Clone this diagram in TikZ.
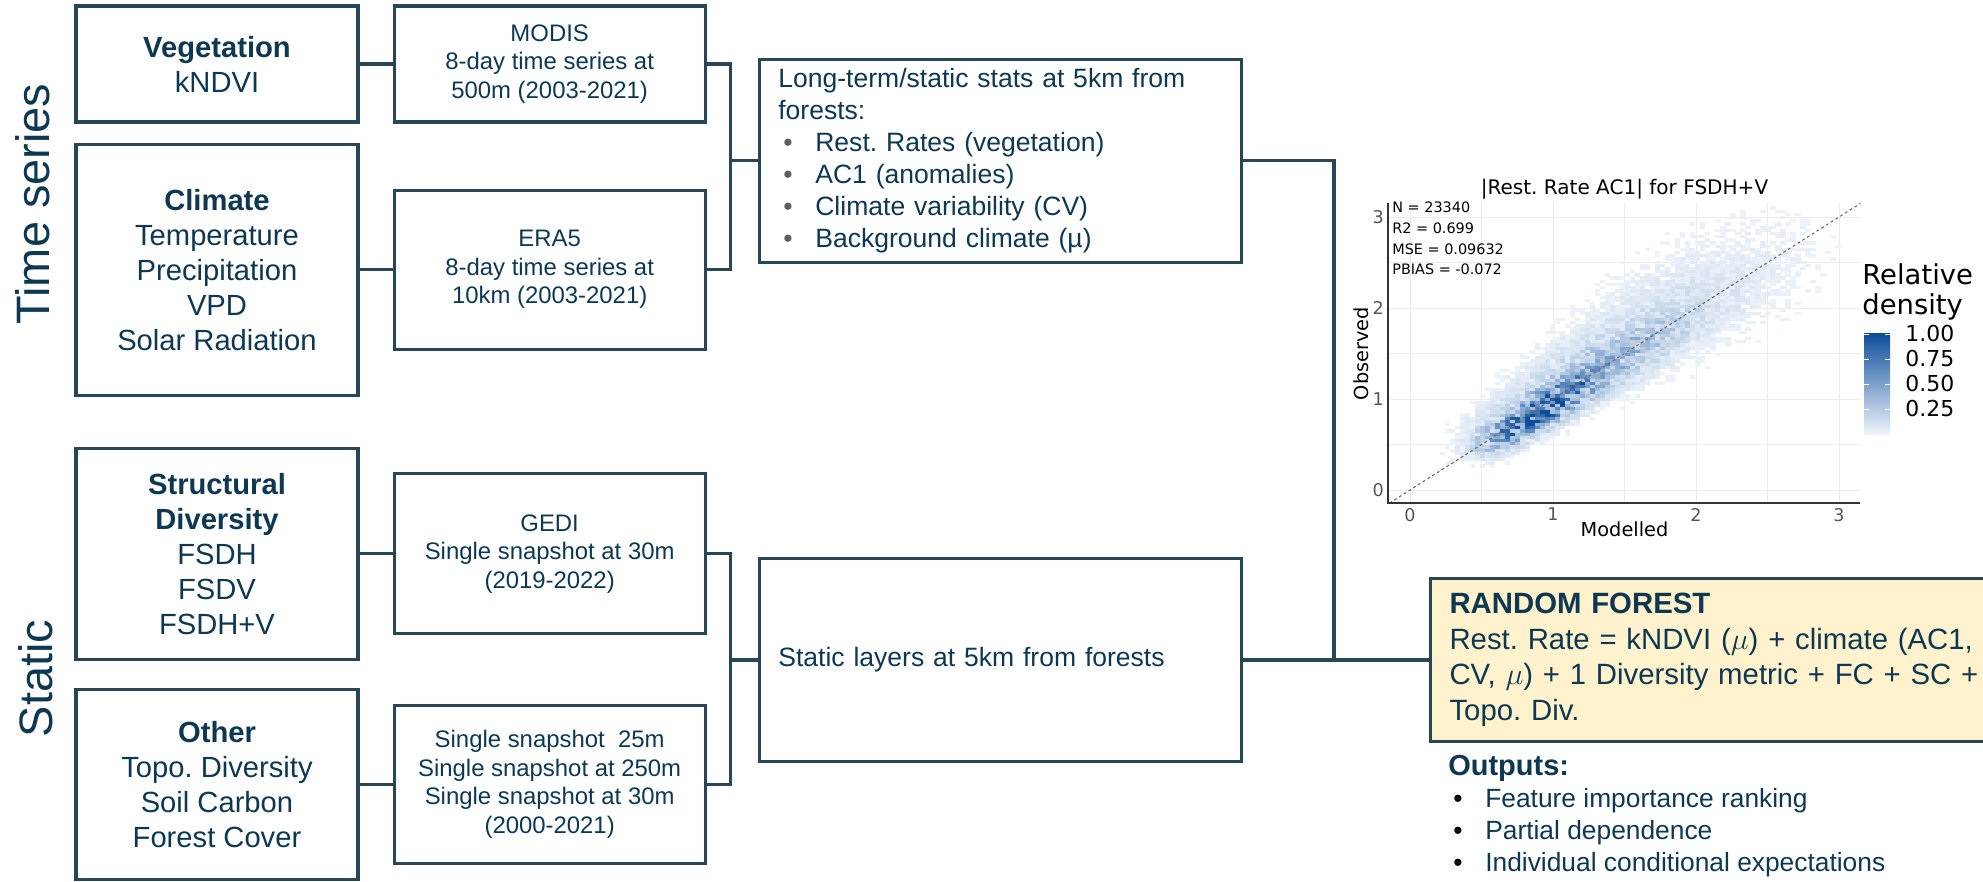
\documentclass[tikz,border=0pt]{standalone}
\usepackage{fontspec}
\setmainfont{Liberation Sans}
\newfontfamily\plotfont{DejaVu Sans}
\usepackage{xcolor}
\usepackage{tikz}
\usetikzlibrary{positioning,calc}
\frenchspacing
\definecolor{slateln}  {RGB}{40, 70, 86}
\definecolor{navytxt}  {RGB}{14, 56, 82}
\definecolor{rfyellow} {RGB}{255,242,204}
\definecolor{bulgray}  {RGB}{95, 95, 95}
\definecolor{gridgray} {RGB}{236,236,236}
\definecolor{tickgray} {RGB}{85, 85, 85}
\definecolor{densblue} {RGB}{12, 78,155}
\definecolor{denslow}  {RGB}{238,244,251}
\newcommand{\blt}[1][bulgray]{\makebox[0.74cm][l]{\hspace{0.1cm}\textcolor{#1}{•}}}
\tikzset{
  srcbox/.style={draw=slateln,line width=1.8pt,minimum width=5.64cm,
                 align=center,text=navytxt,
                 font=\fontsize{16.6}{19.9}\selectfont},
  prodbox/.style={srcbox,minimum width=6.22cm,
                  font=\fontsize{13.6}{16.2}\selectfont},
  statbox/.style={draw=slateln,line width=1.8pt,minimum width=9.64cm,
                  minimum height=4.06cm,text width=8.88cm,inner xsep=0.38cm,
                  align=left,text=navytxt,
                  font=\fontsize{15.1}{18.2}\selectfont},
  rfbox/.style={statbox,fill=rfyellow,minimum height=3.26cm,
                minimum width=11.42cm,text width=10.66cm,
                font=\fontsize{16.7}{20.2}\selectfont},
  outlist/.style={align=left,text=navytxt,inner xsep=0.38cm,inner ysep=0pt,
                  font=\fontsize{15}{18.2}\selectfont},
  conn/.style={draw=slateln,line width=1.8pt},
  sidelbl/.style={rotate=90,text=navytxt,font=\fontsize{26.7}{30}\selectfont},
  ptitle/.style={font=\plotfont\fontsize{11.4}{14}\selectfont},
  pstat/.style={font=\plotfont\fontsize{8.2}{11.8}\selectfont,align=left,
                inner sep=0pt},
  ptick/.style={font=\plotfont\fontsize{10}{12}\selectfont,text=tickgray,
                inner sep=1pt},
  paxis/.style={font=\plotfont\fontsize{11}{14}\selectfont},
  gridln/.style={draw=gridgray,line width=0.5pt},
  axisln/.style={draw=black!80,line width=0.8pt},
  diagln/.style={draw=black!60,dash pattern=on 1.6pt off 1.6pt,line width=0.6pt},
  legtitle/.style={font=\plotfont\fontsize{15.6}{17}\selectfont,align=left,
                   inner sep=0pt},
  legval/.style={font=\plotfont\fontsize{12.5}{14}\selectfont,inner sep=0pt},
}

\begin{document}
\begin{tikzpicture}[node distance=0.38cm and 0.66cm]
  \useasboundingbox (0,0) rectangle (39.66,-17.64);
  \clip (0,0) rectangle (39.66,-17.64);

  % Side labels
  \node[sidelbl] (TS_LBL) at (0.66,-4.08)  {Time series};
  \node[sidelbl] (ST_LBL) at (0.71,-13.57) {Static};

  % Column 1
  \node[srcbox,minimum height=2.32cm] (VEG) at (4.34,-1.28)
       {\textbf{Vegetation}\\kNDVI};
  \node[srcbox,minimum height=5.02cm,below=of VEG] (CLIM)
       {\textbf{Climate}\\Temperature\\Precipitation\\VPD\\Solar Radiation};
  \node[srcbox,minimum height=4.22cm,below=1.0cm of CLIM] (STRUCT)
       {\textbf{Structural}\\\textbf{Diversity}\\FSDH\\FSDV\\FSDH+V};
  \node[srcbox,minimum height=3.8cm,below=0.54cm of STRUCT] (OTHER)
       {\textbf{Other}\\Topo. Diversity\\Soil Carbon\\Forest Cover};
  % Column 2
  \node[prodbox,minimum height=2.32cm,right=of VEG] (MODIS)
       {MODIS\\8-day time series at\\500m (2003-2021)};
  \node[prodbox,minimum height=3.18cm,right=of CLIM] (ERA5)
       {ERA5\\8-day time series at\\10km (2003-2021)};
  \node[prodbox,minimum height=3.2cm,right=of STRUCT] (GEDI)
       {GEDI\\Single snapshot at 30m\\(2019-2022)};
  \node[prodbox,minimum height=3.16cm,right=of OTHER] (OTHER_SRC)
       {Single snapshot\ \ 25m\\Single snapshot at 250m\\Single snapshot at 30m\\(2000-2021)};
  % Column 3
  \coordinate (TS_JOIN) at ($(MODIS.east)!0.47!(ERA5.east)+(0.48,0)$);
  \coordinate (ST_JOIN) at ($(GEDI.east)!0.46!(OTHER_SRC.east)+(0.48,0)$);
  \node[statbox,right=0.54cm of TS_JOIN] (LONGTERM)
       {Long-term/static stats at 5km from\\forests:\\
        \blt Rest. Rates (vegetation)\\\blt AC1 (anomalies)\\
        \blt Climate variability (CV)\\\blt Background climate (µ)};
  \node[statbox,right=0.54cm of ST_JOIN] (STATIC)
       {Static layers at 5km from forests};
  \coordinate (MERGE) at ([xshift=1.82cm]STATIC.east);
  % Model
  \node[rfbox,right=3.72cm of STATIC] (RF)
       {\textbf{RANDOM FOREST}\\Rest. Rate = kNDVI ($\mu$) + climate (AC1,\\
        CV, $\mu$) + 1 Diversity metric + FC + SC +\\Topo. Div.};
  \node[outlist,below=0.23cm of RF.south west,anchor=north west] (OUTPUTS)
       {{\fontsize{16.5}{19}\selectfont\bfseries Outputs:}\\
        \blt[black]Feature importance ranking\\
        \blt[black]Partial dependence\\
        \blt[black]Individual conditional expectations};

  % Connectors
  \draw[conn] (VEG) -- (MODIS);
  \draw[conn] (CLIM) -- (ERA5);
  \draw[conn] (STRUCT) -- (GEDI);
  \draw[conn] (OTHER) -- (OTHER_SRC);
  \draw[conn] (MODIS.east) -| (TS_JOIN) |- (ERA5.east);
  \draw[conn] (GEDI.east) -| (ST_JOIN) |- (OTHER_SRC.east);
  \draw[conn] (TS_JOIN) -- (LONGTERM.west);
  \draw[conn] (ST_JOIN) -- (STATIC.west);
  \draw[conn] (LONGTERM.east) -| (MERGE);
  \draw[conn] (STATIC.east) -- (RF.west);

  % Scatter panel
  \begin{scope}[shift={(28.2,-9.8)},x=2.86cm,y=1.82cm,
                declare function={gau(\gx)=exp(max(-14,-0.5*\gx*\gx));
                                  ramp(\gx)=1/(1+exp(min(14,-(\gx-0.42)/0.07)));}]
    \foreach \g in {0,0.5,...,3}{
      \draw[gridln] (\g,-0.143) -- (\g,3.15);
      \draw[gridln] (-0.154,\g) -- (3.15,\g);
    }
    % binned density
    \pgfmathsetseed{2718}
    \foreach \i in {4,...,86}{
      \pgfmathtruncatemacro\jlo{max(1,\i-24)}
      \pgfmathtruncatemacro\jhi{min(88,\i+32)}
      \foreach \j in {\jlo,...,\jhi}{
        \pgfmathsetmacro\uu{0.0175*(\i+\j)+0.0175}
        \pgfmathsetmacro\vv{0.035*(\j-\i)}
        \pgfmathsetmacro\dd{ramp(\uu)*(0.9*gau((\uu-0.85)/0.25)*gau((\vv+0.06)/0.13)
          +0.28*gau((\uu-1.35)/0.4)*gau(\vv/0.2)
          +0.15*gau((\uu-1.3)/0.8)*gau((\vv-0.12)/(0.1+0.17*\uu)))}
        \pgfmathsetmacro\cc{min(1,0.8*\dd*(0.3+1.4*rnd))}
        \pgfmathtruncatemacro\keep{(rnd<14*\dd)&&(\uu<2.9)&&(\cc>0.012)}
        \ifnum\keep=1
          \pgfmathtruncatemacro\pc{100*\cc}
          \fill[densblue!\pc!denslow] (0.035*\i,0.035*\j) rectangle ++(0.036,0.036);
        \fi
      }
    }
    \draw[diagln] (-0.143,-0.143) -- (3.15,3.15);
    \draw[axisln] (-0.154,3.15) -- (-0.154,-0.143) -- (3.15,-0.143);
    \foreach \k in {0,1,2,3}{
      \node[ptick,anchor=east]  (YT\k) at (-0.168,\k) {\k};
      \node[ptick,anchor=north] (XT\k) at (\k,-0.175) {\k};
    }
    \node[ptitle] (PTITLE) at (1.5,3.31) {|Rest. Rate AC1| for FSDH+V};
    \node[pstat,anchor=north west] (PSTATS) at (-0.126,3.17)
         {N = 23340\\R2 = 0.699\\MSE = 0.09632\\PBIAS = -0.072};
    \node[paxis] (XLBL) at (1.5,-0.43) {Modelled};
    \node[paxis,rotate=90] (YLBL) at (-0.34,1.5) {Observed};
  \end{scope}

  % Legend
  \node[legtitle,anchor=west] (LEGTITLE) at (37.24,-5.84) {Relative\\density};
  \shade[top color=densblue,bottom color=denslow] (37.28,-6.66) rectangle (37.80,-8.68);
  \foreach \val/\yy [count=\n] in {1.00/-6.68,0.75/-7.18,0.50/-7.68,0.25/-8.18}{
    \draw[white,line width=0.5pt] (37.28,\yy) -- ++(0.1,0) (37.80,\yy) -- ++(-0.1,0);
    \node[legval,anchor=west] (LEGV\n) at (38.1,\yy) {\val};
  }
\end{tikzpicture}
\end{document}
